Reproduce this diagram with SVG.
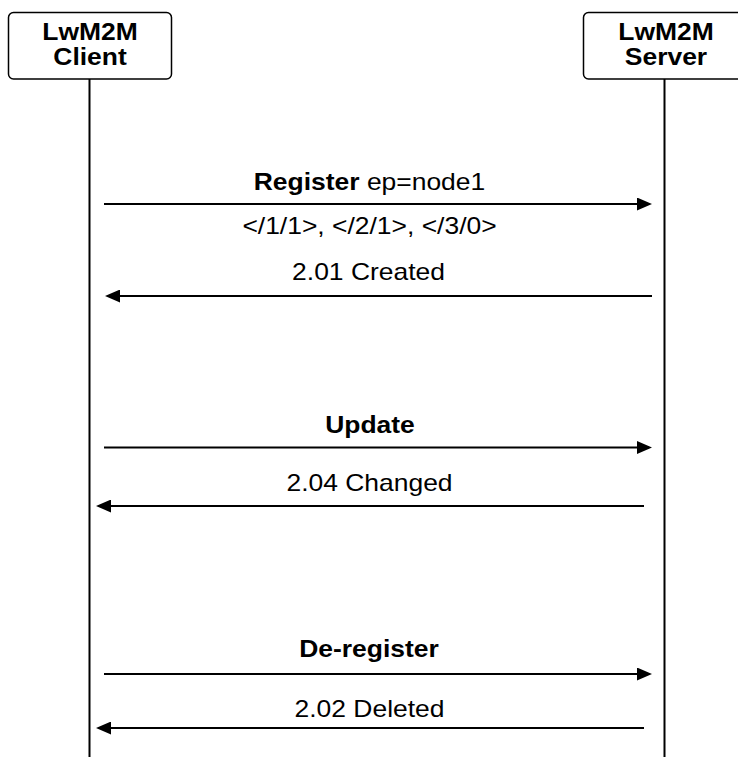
<svg xmlns="http://www.w3.org/2000/svg" width="738" height="757" viewBox="0 0 738 757">
  <defs>
    <style>
      .box { fill: #ffffff; stroke: #000000; stroke-width: 1.5; }
      .life { stroke: #000000; stroke-width: 2; fill: none; }
      .msg { stroke: #000000; stroke-width: 2; fill: none; marker-end: url(#arrow); }
      text { font-family: "Liberation Sans", Arial, sans-serif; font-size: 23px; fill: #000000; text-anchor: middle; }
      .b { font-weight: bold; }
    </style>
    <marker id="arrow" markerUnits="userSpaceOnUse" markerWidth="15" markerHeight="13" refX="12" refY="6.5" orient="auto">
      <path d="M0,0 L15,6.5 L0,13 Z" fill="#000000"/>
    </marker>
  </defs>
  <rect x="0" y="0" width="738" height="757" fill="#ffffff"/>

  <g id="lifelines">
    <line class="life" x1="89.5" y1="79" x2="89.5" y2="757"/>
    <line class="life" x1="664.5" y1="79" x2="664.5" y2="757"/>
  </g>

  <g id="client">
    <rect class="box" x="8.5" y="12.5" width="163" height="66.5" rx="5" ry="5"/>
    <text class="b" transform="translate(90,39.5) scale(1.15,1)">LwM2M</text>
    <text class="b" transform="translate(90,64.5) scale(1.15,1)">Client</text>
  </g>

  <g id="server">
    <rect class="box" x="583.5" y="12.5" width="163" height="66.5" rx="5" ry="5"/>
    <text class="b" transform="translate(666,39.5) scale(1.15,1)">LwM2M</text>
    <text class="b" transform="translate(666,64.5) scale(1.15,1)">Server</text>
  </g>

  <g id="connectors">
    <line class="msg" x1="104" y1="204" x2="649" y2="204"/>
    <line class="msg" x1="652" y1="296" x2="108" y2="296"/>
    <line class="msg" x1="104" y1="447.5" x2="649" y2="447.5"/>
    <line class="msg" x1="644" y1="506" x2="99" y2="506"/>
    <line class="msg" x1="104" y1="674" x2="649" y2="674"/>
    <line class="msg" x1="644" y1="728" x2="99" y2="728"/>
  </g>

  <g id="labels">
    <text transform="translate(369.5,189.5) scale(1.15,1)"><tspan class="b">Register</tspan> ep=node1</text>
    <text transform="translate(369.5,234) scale(1.15,1)">&lt;/1/1&gt;, &lt;/2/1&gt;, &lt;/3/0&gt;</text>
    <text transform="translate(368.5,280) scale(1.15,1)">2.01 Created</text>
    <text class="b" transform="translate(370,433) scale(1.15,1)">Update</text>
    <text transform="translate(369.5,491) scale(1.15,1)">2.04 Changed</text>
    <text class="b" transform="translate(369,656.5) scale(1.15,1)">De-register</text>
    <text transform="translate(369.5,716.5) scale(1.15,1)">2.02 Deleted</text>
  </g>
</svg>
